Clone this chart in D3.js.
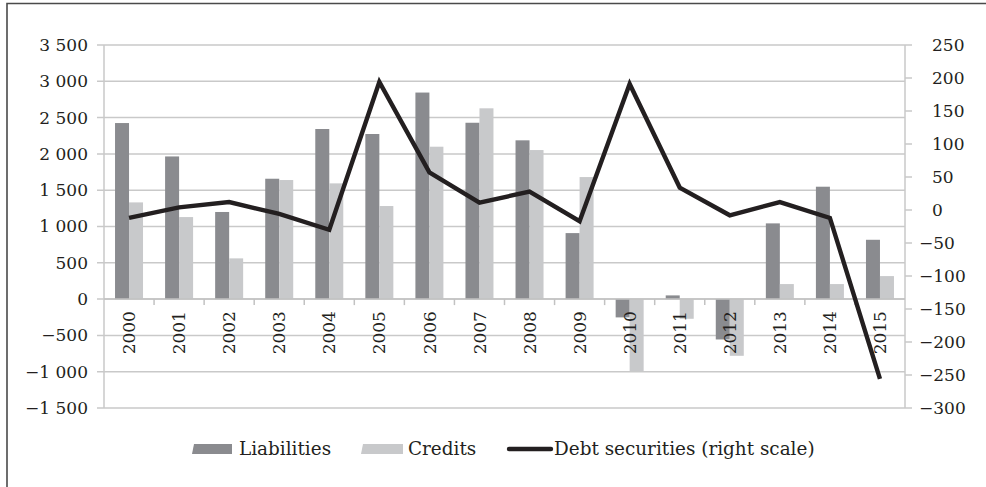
<!DOCTYPE html>
<html>
<head>
<meta charset="utf-8">
<script src="https://cdn.jsdelivr.net/npm/d3@7"></script>
<style>
  html, body { margin: 0; padding: 0; background: #fff; }
  svg text { font-family: "DejaVu Serif", serif; fill: #231f20; }
</style>
</head>
<body>
<div id="chart"></div>
<script>
// data
const years = ['2000', '2001', '2002', '2003', '2004', '2005', '2006', '2007',
  '2008', '2009', '2010', '2011', '2012', '2013', '2014', '2015'];
const liabilities = [2425, 1965, 1200, 1658, 2343, 2274, 2845, 2429, 2187, 909,
  -252, 51, -556, 1043, 1548, 817];
const credits = [1332, 1130, 561, 1640, 1594, 1282, 2099, 2628, 2053, 1681,
  -995, -271, -781, 207, 207, 317];
const debtSecurities = [-12, 4, 12, -6, -30, 194, 57, 11, 28, -17,
  191, 34, -8, 12, -12, -256];
const leftTicks = [-1500, -1000, -500, 0, 500, 1000, 1500, 2000, 2500, 3000, 3500];
const rightTicks = [-300, -250, -200, -150, -100, -50, 0, 50, 100, 150, 200, 250];

const W = 986, H = 487;
const plot = { left: 104, right: 905, top: 45, bottom: 408 };

const svg = d3.select('#chart').append('svg')
  .attr('width', W)
  .attr('height', H);

// frame of the figure box (only top and left edges are inside the crop)
svg.append('path')
  .attr('d', `M7,${H + 5}V3.5H${W + 5}`)
  .attr('fill', 'none')
  .attr('stroke', '#4a4a4a')
  .attr('stroke-width', 1.6);

const x = d3.scaleBand().domain(years).range([plot.left, plot.right]);
const yL = d3.scaleLinear().domain([-1500, 3500]).range([plot.bottom, plot.top]);
const yR = d3.scaleLinear().domain([-300, 250]).range([plot.bottom, plot.top]);

const fmt = d3.formatLocale({ decimal: '.', thousands: ' ', grouping: [3], currency: ['', ''], minus: '\u2212' }).format(',d');

// gridlines
svg.append('g')
  .selectAll('line')
  .data(leftTicks)
  .enter().append('line')
  .attr('x1', plot.left - 7)
  .attr('x2', plot.right)
  .attr('y1', d => yL(d))
  .attr('y2', d => yL(d))
  .attr('stroke', '#c9c9c9')
  .attr('stroke-width', 1.5);

// axes lines
svg.append('line')
  .attr('x1', plot.left).attr('x2', plot.left)
  .attr('y1', plot.top).attr('y2', plot.bottom)
  .attr('stroke', '#c9c9c9').attr('stroke-width', 1.5);
svg.append('line')
  .attr('x1', plot.right).attr('x2', plot.right)
  .attr('y1', plot.top).attr('y2', plot.bottom)
  .attr('stroke', '#c9c9c9').attr('stroke-width', 1.5);

// left labels
svg.append('g')
  .selectAll('text')
  .data(leftTicks)
  .enter().append('text')
  .attr('x', 88)
  .attr('y', d => yL(d))
  .attr('dy', '0.35em')
  .attr('text-anchor', 'end')
  .style('font-size', '17px')
  .text(d => fmt(d));

// right ticks and labels
svg.append('g')
  .selectAll('line')
  .data(rightTicks)
  .enter().append('line')
  .attr('x1', plot.right)
  .attr('x2', plot.right + 7)
  .attr('y1', d => yR(d))
  .attr('y2', d => yR(d))
  .attr('stroke', '#c9c9c9')
  .attr('stroke-width', 1.5);

svg.append('g')
  .selectAll('text')
  .data(rightTicks)
  .enter().append('text')
  .attr('x', d => d < 0 ? 919 : 932)
  .attr('y', d => yR(d))
  .attr('dy', '0.35em')
  .style('font-size', '17px')
  .text(d => fmt(d));

// bars
const barW = 14;
const bars = svg.append('g');
bars.selectAll('.liab')
  .data(liabilities)
  .enter().append('rect')
  .attr('class', 'liab')
  .attr('x', (d, i) => x(years[i]) + x.bandwidth() / 2 - barW)
  .attr('width', barW)
  .attr('y', d => Math.min(yL(d), yL(0)))
  .attr('height', d => Math.abs(yL(d) - yL(0)))
  .attr('fill', '#8a8b8f');
bars.selectAll('.cred')
  .data(credits)
  .enter().append('rect')
  .attr('class', 'cred')
  .attr('x', (d, i) => x(years[i]) + x.bandwidth() / 2)
  .attr('width', barW)
  .attr('y', d => Math.min(yL(d), yL(0)))
  .attr('height', d => Math.abs(yL(d) - yL(0)))
  .attr('fill', '#c8c9cb');

// category axis at zero
const zeroY = yL(0);
svg.append('line')
  .attr('x1', plot.left).attr('x2', plot.right)
  .attr('y1', zeroY).attr('y2', zeroY)
  .attr('stroke', '#c2c2c2').attr('stroke-width', 1.5);
svg.append('g')
  .selectAll('line')
  .data(years.slice(1))
  .enter().append('line')
  .attr('x1', d => x(d)).attr('x2', d => x(d))
  .attr('y1', zeroY).attr('y2', zeroY + 6)
  .attr('stroke', '#c2c2c2').attr('stroke-width', 1.5);

svg.append('g')
  .selectAll('text')
  .data(years)
  .enter().append('text')
  .attr('transform', d => `translate(${x(d) + x.bandwidth() / 2},${zeroY + 12}) rotate(-90)`)
  .attr('text-anchor', 'end')
  .attr('dy', '0.36em')
  .style('font-size', '17px')
  .text(d => d);

// line on right scale
const line = d3.line()
  .x((d, i) => x(years[i]) + x.bandwidth() / 2)
  .y(d => yR(d));
svg.append('path')
  .datum(debtSecurities)
  .attr('d', line)
  .attr('fill', 'none')
  .attr('stroke', '#231f20')
  .attr('stroke-width', 4.4)
  .attr('stroke-linejoin', 'miter');

// legend
const legY = 449;
const legend = svg.append('g');
legend.append('path')
  .attr('d', `M194,${legY - 5}H232V${legY + 5}H192Z`)
  .attr('fill', '#8a8b8f');
legend.append('text')
  .attr('x', 239).attr('y', legY).attr('dy', '0.35em')
  .style('font-size', '18.4px')
  .text('Liabilities');
legend.append('path')
  .attr('d', `M363,${legY - 5}H403V${legY + 5}H361Z`)
  .attr('fill', '#c8c9cb');
legend.append('text')
  .attr('x', 408).attr('y', legY).attr('dy', '0.35em')
  .style('font-size', '18.4px')
  .text('Credits');
legend.append('line')
  .attr('x1', 509).attr('x2', 551)
  .attr('y1', legY).attr('y2', legY)
  .attr('stroke', '#231f20')
  .attr('stroke-width', 4.4)
  .attr('stroke-linecap', 'round');
legend.append('text')
  .attr('x', 554).attr('y', legY).attr('dy', '0.35em')
  .style('font-size', '18.4px')
  .text('Debt securities (right scale)');
</script>
</body>
</html>
